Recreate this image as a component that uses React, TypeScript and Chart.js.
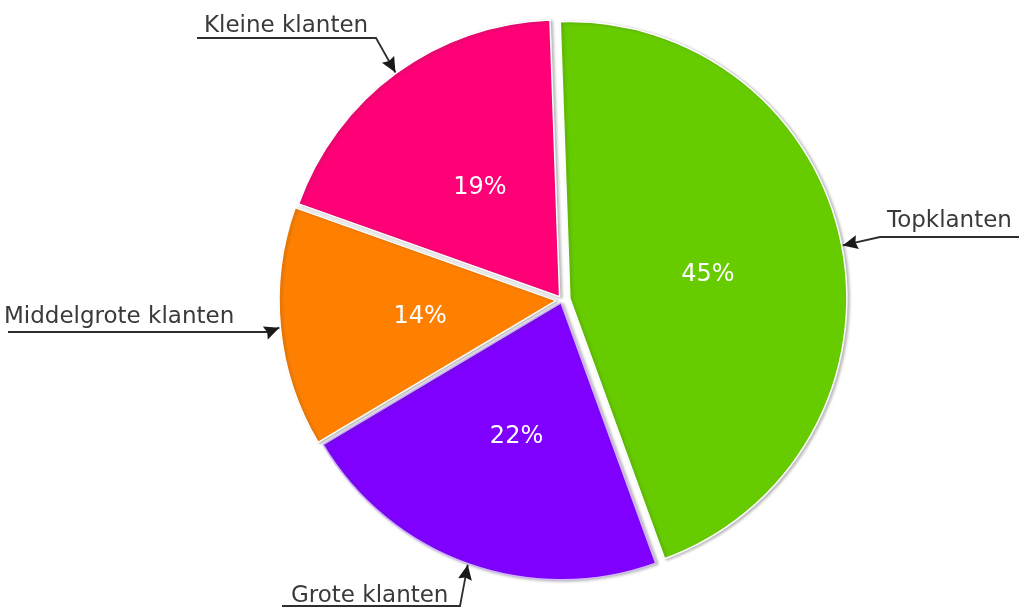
import React, { useEffect, useRef } from "react";
import { Chart, registerables } from "chart.js";

Chart.register(...registerables);

const categories = ["Topklanten", "Grote klanten", "Middelgrote klanten", "Kleine klanten"];
const values = [45, 22, 14, 19];
const percentLabels = ["45%", "22%", "14%", "19%"];
const colors = ["#66CC00", "#7F00FF", "#FF8000", "#FF0077"];
const borderColors = ["#ffffff", "#d2b4ff", "#ffffff", "#ffffff"];
const sliceOffsets = [8, 3, 6, 4];

// callout text layout: text position, underline from ux0 to ux1 at uy, then a line to the slice
const callouts = [
  { tx: 887, ty: 227, ux0: 1019, ux1: 880, uy: 237 },
  { tx: 291, ty: 602, ux0: 282, ux1: 460, uy: 606 },
  { tx: 4, ty: 323, ux0: 8, ux1: 268, uy: 332 },
  { tx: 204, ty: 32, ux0: 197, ux1: 376, uy: 38 },
];

// draws each slice moved out along its mid angle (pure translation, no radius change)
const explodePlugin = {
  id: "explode",
  beforeDatasetDraw(chart: any, args: any) {
    const ctx = chart.ctx as CanvasRenderingContext2D;
    args.meta.data.forEach((arc: any, i: number) => {
      const mid = (arc.startAngle + arc.endAngle) / 2;
      const off = sliceOffsets[i];
      ctx.save();
      ctx.shadowColor = "rgba(70,70,70,0.35)";
      ctx.shadowBlur = 3;
      ctx.shadowOffsetX = 2;
      ctx.shadowOffsetY = 1;
      ctx.translate(Math.cos(mid) * off, Math.sin(mid) * off);
      arc.draw(ctx);
      ctx.restore();
    });
    return false;
  },
};

const calloutPlugin = {
  id: "callouts",
  afterDatasetsDraw(chart: any) {
    const ctx = chart.ctx as CanvasRenderingContext2D;
    const meta = chart.getDatasetMeta(0);
    meta.data.forEach((arc: any, i: number) => {
      const p = arc.getProps(["x", "y", "startAngle", "endAngle", "outerRadius"], true);
      const mid = (p.startAngle + p.endAngle) / 2;
      const off = sliceOffsets[i];
      const cx = p.x + Math.cos(mid) * off;
      const cy = p.y + Math.sin(mid) * off;
      // percentage label
      const pr = p.outerRadius * 0.5;
      ctx.save();
      ctx.font = "24px 'DejaVu Sans'";
      ctx.fillStyle = "#ffffff";
      ctx.textAlign = "center";
      ctx.textBaseline = "middle";
      ctx.fillText(percentLabels[i], cx + Math.cos(mid) * pr + 2, cy + Math.sin(mid) * pr + 3);
      ctx.restore();

      // callout
      const c = callouts[i];
      const tipX = cx + Math.cos(mid) * (p.outerRadius + 1);
      const tipY = cy + Math.sin(mid) * (p.outerRadius + 1);
      ctx.save();
      ctx.strokeStyle = "#2e2e2e";
      ctx.fillStyle = "#1a1a1a";
      ctx.lineWidth = 1.8;
      ctx.beginPath();
      ctx.moveTo(c.ux0, c.uy);
      ctx.lineTo(c.ux1, c.uy);
      ctx.lineTo(tipX, tipY);
      ctx.stroke();
      // arrow head
      const ang = Math.atan2(tipY - c.uy, tipX - c.ux1);
      const L = 15, W = 7;
      const bx = tipX - Math.cos(ang) * L;
      const by = tipY - Math.sin(ang) * L;
      ctx.beginPath();
      ctx.moveTo(tipX, tipY);
      ctx.lineTo(bx + Math.cos(ang + Math.PI / 2) * W, by + Math.sin(ang + Math.PI / 2) * W);
      ctx.lineTo(bx + Math.cos(ang) * 2, by + Math.sin(ang) * 2);
      ctx.lineTo(bx - Math.cos(ang + Math.PI / 2) * W, by - Math.sin(ang + Math.PI / 2) * W);
      ctx.closePath();
      ctx.fill();
      // text
      ctx.font = "23px 'DejaVu Sans'";
      ctx.fillStyle = "#3a3a3a";
      ctx.textAlign = "left";
      ctx.textBaseline = "alphabetic";
      ctx.fillText(categories[i], c.tx, c.ty);
      ctx.restore();
    });
  },
};

export default function App() {
  const ref = useRef<HTMLCanvasElement | null>(null);
  useEffect(() => {
    if (!ref.current) return;
    const chart = new Chart(ref.current, {
      type: "pie",
      data: {
        labels: categories,
        datasets: [
          {
            data: values,
            backgroundColor: colors,
            borderColor: borderColors,
            borderWidth: 1.5,
            hoverOffset: 0,
          },
        ],
      },
      options: {
        animation: false,
        responsive: true,
        maintainAspectRatio: false,
        radius: 277,
        rotation: -2,
        layout: { padding: { left: 105, right: 0, top: 0, bottom: 7 } },
        plugins: {
          legend: { display: false },
          tooltip: { enabled: false },
        },
      },
      plugins: [explodePlugin, calloutPlugin],
    });
    return () => chart.destroy();
  }, []);
  return (
    <div style={{ position: "fixed", left: 0, top: 0, width: 1019, height: 607, background: "#ffffff" }}>
      <canvas ref={ref} />
    </div>
  );
}
